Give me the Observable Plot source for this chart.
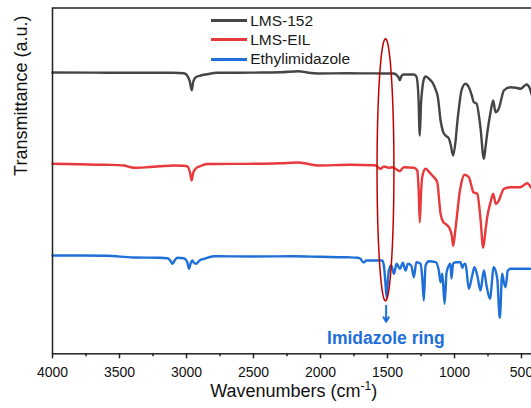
<!DOCTYPE html>
<html>
<head>
<meta charset="utf-8">
<script src="https://cdn.jsdelivr.net/npm/d3@7"></script>
<script src="https://cdn.jsdelivr.net/npm/@observablehq/plot@0.6"></script>
<style>
  html, body { margin: 0; padding: 0; background: #fff; overflow: hidden; }
  #wrap { position: relative; width: 531px; height: 408px; overflow: hidden; font-family: "Liberation Sans", Arial, sans-serif; }
  #legend { position: absolute; left: 210.7px; top: 11px; }
  .row { position: absolute; left: 0; height: 19.3px; display: flex; align-items: center; white-space: nowrap; font-size: 15.5px; color: #1a1a1a; }
  .swatch { display: inline-block; width: 36px; height: 3px; margin-right: 3.5px; }
</style>
</head>
<body>
<div id="wrap"><div id="legend"></div></div>
<script>
// ---- data (wavenumber cm^-1, transmittance a.u. as stacked in the figure) ----
const seriesNames = ["LMS-152", "LMS-EIL", "Ethylimidazole"];
const seriesColors = ["#454545", "#e8393c", "#1f6fd8"];

const lms152 = [
  [4000,281.3],[3700,281.2],[3400,281],[3100,281],[3020,280.5],[2994,278],[2975,272],[2961,263.5],[2950,272],[2931,276.6],
  [2894,278.3],[2850,279.5],[2770,281],[2500,281.2],[2300,281.5],[2163,282.6],[2100,281.3],[2021,280.3],[1800,280.5],[1600,280.4],
  [1455,280.3],[1420,277],[1408,273.6],[1395,278],[1380,279.3],[1306,279.3],[1285,277.5],[1270,260],[1259,218.3],[1250,250],
  [1242,263],[1230,274],[1216,277.3],[1190,275],[1166,271.6],[1140,264],[1124,256.6],[1104,233.3],[1085,222],[1067,218.3],
  [1042,215.3],[1030,210],[1010,198.3],[992,213],[980,230.3],[965,248],[948,263.3],[918,270],[893,266.6],[870,258],
  [856,251.6],[836,250.3],[806,226],[781,195],[770,205],[756,220.3],[731,241.6],[711,253.3],[694,241.6],[669,245.3],
  [650,255],[632,263.3],[582,266.6],[540,266],[507,265],[463,269.3],[440,266],[426,260],[400,253]
];
const lmsEil = [
  [4000,190],[3800,189.5],[3600,189],[3470,188.3],[3393,186],[3300,186.5],[3200,187.5],[3095,188.3],[3020,188],[2994,187.5],
  [2975,182],[2961,173.3],[2950,181],[2931,185.3],[2900,187.5],[2844,189.8],[2500,190],[2300,190.5],[2163,191.3],[2100,190],
  [2021,188.3],[1775,189],[1600,188.5],[1576,187.3],[1552,185],[1527,187.3],[1490,186],[1464,186.6],[1440,185],[1408,182.6],
  [1378,186.6],[1303,186],[1278,183.3],[1268,165],[1259,131.6],[1250,160],[1241,176.6],[1216,185],[1190,182],[1166,178.3],
  [1129,171.6],[1104,140],[1085,132],[1067,130],[1035,125],[1020,118],[1010,108],[995,122],[980,140],[965,158],
  [950,170],[925,179],[893,176.6],[870,166],[860,161.6],[830,160],[806,135],[786,106],[770,122],[756,136.6],
  [731,151.6],[711,160],[692,150],[669,153.3],[650,160],[632,165],[582,166.6],[507,166.6],[458,170.6],[426,166],[400,162]
];
const ethylimidazole = [
  [4000,98.3],[3800,98.3],[3590,98],[3400,96.3],[3200,96],[3142,95.5],[3120,93],[3105,90],[3085,94],[3068,96],
  [3020,95.5],[2995,92],[2981,85],[2970,90],[2956,93.3],[2945,91],[2931,90],[2900,93.5],[2869,95],[2795,97.6],
  [2500,97.3],[2200,97.5],[2000,97],[1800,96.5],[1720,96],[1701,95],[1685,92],[1672,91.6],[1660,93.3],[1626,93.3],
  [1539,93.3],[1527,88.3],[1515,70],[1507,56.6],[1498,72],[1490,83.3],[1472,88.3],[1452,80],[1432,90],[1408,85],
  [1385,91],[1365,83.3],[1348,90],[1323,88.3],[1303,76.6],[1285,91.6],[1253,90],[1241,76.6],[1229,53.3],[1216,88.3],
  [1191,92.6],[1141,91.6],[1117,83.3],[1104,71.6],[1091,80],[1074,50],[1059,81.6],[1042,88.3],[1030,90],[1023,75.3],
  [1010,90],[992,91.6],[955,91.6],[941,86],[935,88.3],[918,90],[893,65],[868,78.3],[851,86.6],[830,78.3],
  [806,63.3],[781,83.3],[761,68.3],[736,55],[707,86.6],[681,75],[662,36],[644,80],[632,71.6],[619,66.6],
  [602,83.3],[582,85],[426,85],[400,85]
];

const majorTicks = [4000, 3500, 3000, 2500, 2000, 1500, 1000, 500];
const minorTicks = [3750, 3250, 2750, 2250, 1750, 1250, 750];

// annotation: ellipse around imidazole ring band, arrow and label
const ringEllipse = [{wn: 1515, v: 184, rWn: 63, rV: 131}];
const ringArrow = [{wn: 1510, v1: 48, v2: 32}];
const ringLabel = [{wn: 1512, v: 15, text: "Imidazole ring"}];

// ---- build ----
const allSeries = [lms152, lmsEil, ethylimidazole];
const rows = allSeries.flatMap((s, i) => s.map(([wn, v]) => ({wn, v, name: seriesNames[i]})));
const e = ringEllipse[0];
const ellipsePts = d3.range(0, 361, 3).map(a => ({
  wn: e.wn + e.rWn * Math.cos(a * Math.PI / 180),
  v: e.v + e.rV * Math.sin(a * Math.PI / 180)
}));

const W = 545;
const font = '"Liberation Sans", Arial, sans-serif';
const chart = Plot.plot({
  width: W,
  height: 408,
  marginLeft: 52,
  marginRight: 10.6,
  marginTop: 7.5,
  marginBottom: 54.7,
  x: {domain: [4000, 400], label: null},
  y: {domain: [0, 345.8], axis: null, label: null},
  color: {domain: seriesNames, range: seriesColors},
  style: {fontFamily: font, fontSize: "14px", color: "#111", background: "transparent", overflow: "visible", maxWidth: "none"},
  marks: [
    Plot.line(rows, {x: "wn", y: "v", z: "name", stroke: "name", strokeWidth: 2.4, curve: "monotone-x"}),
    Plot.line(ellipsePts, {x: "wn", y: "v", stroke: "#c00000", strokeWidth: 1.5}),
    Plot.arrow(ringArrow, {x1: "wn", x2: "wn", y1: "v1", y2: "v2", stroke: "#1f6fd8", strokeWidth: 2, headLength: 7, bend: 0}),
    Plot.text(ringLabel, {x: "wn", y: "v", text: "text", fill: "#1f6fd8", fontWeight: "bold", fontSize: 17.5}),
    Plot.frame({stroke: "#222", strokeWidth: 1.5}),
    Plot.axisX({ticks: majorTicks, tickSize: 5, tickPadding: 8, tickFormat: d => String(d), fontSize: 14, stroke: "#222", strokeWidth: 1.5, label: null}),
    Plot.axisX({ticks: minorTicks, tickSize: 3, tickFormat: () => "", stroke: "#222", strokeWidth: 1.5, label: null}),
    Plot.text(["Transmittance (a.u.)"], {frameAnchor: "left", rotate: -90, dx: -31, dy: -5, fontSize: 18, fill: "#111"}),
    Plot.text(["Wavenumbers (cm-1)"], {frameAnchor: "bottom", dy: 43.5, fontSize: 18, fill: "#111"})
  ]
});

// superscript for cm^-1
for (const t of chart.querySelectorAll("text")) {
  if (t.textContent === "Wavenumbers (cm-1)") {
    t.textContent = "";
    const ns = "http://www.w3.org/2000/svg";
    const a = document.createElementNS(ns, "tspan"); a.textContent = "Wavenumbers (cm";
    const b = document.createElementNS(ns, "tspan"); b.textContent = "-1"; b.setAttribute("dy", "-7"); b.setAttribute("font-size", "12");
    const c = document.createElementNS(ns, "tspan"); c.textContent = ")"; c.setAttribute("dy", "7");
    t.append(a, b, c);
  }
}

const wrap = document.getElementById("wrap");
wrap.insertBefore(chart, wrap.firstChild);
chart.style.position = "absolute";
chart.style.left = "0px";
chart.style.top = "0px";
chart.style.maxWidth = "none";
chart.style.width = W + "px";
chart.style.height = "408px";

const legend = document.getElementById("legend");
seriesNames.forEach((n, i) => {
  const r = document.createElement("div");
  r.className = "row";
  r.style.top = (i * 19.3) + "px";
  const sw = document.createElement("span");
  sw.className = "swatch";
  sw.style.background = seriesColors[i];
  const tx = document.createElement("span");
  tx.textContent = n;
  r.append(sw, tx);
  legend.append(r);
});
</script>
</body>
</html>
